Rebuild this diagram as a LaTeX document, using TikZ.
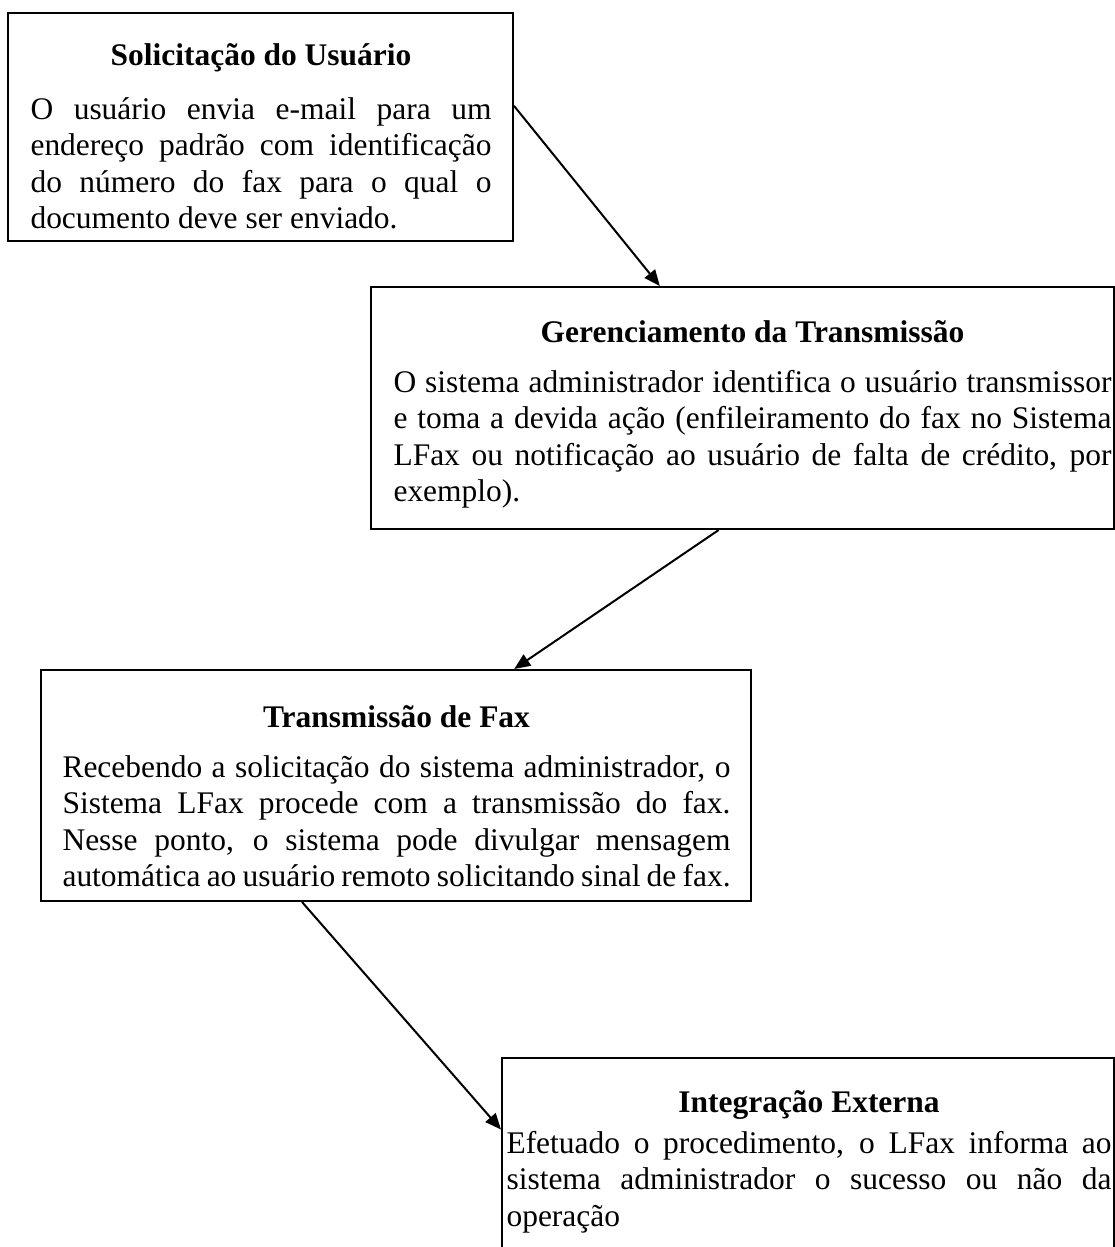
\documentclass[tikz,border=0pt]{standalone}
\usepackage{fontspec}
\setmainfont{Liberation Serif}
\usetikzlibrary{arrows.meta,calc,fit}
\setlength{\parindent}{0pt}
\newcommand{\boxtitle}[1]{\makebox[\linewidth][c]{\strut\bfseries #1}\par}
\begin{document}
\begin{tikzpicture}[x=0.375pt,y=-0.375pt,
  box/.style={draw=black, line width=0.75pt, inner sep=0pt, fill=none},
  txt/.style={inner sep=0pt, anchor=north west, align=justify,
    font=\fontsize{11.8}{13.7}\selectfont},
  arr/.style={line width=0.75pt, -{Triangle[length=6pt,width=5pt]}}]
\useasboundingbox (0,0) rectangle (1115,1247);
\clip (0,0) rectangle (1115,1247);

% boxes
\node[box, fit={(8,13) (513,241)}] (b1) {};
\node[box, fit={(371,287) (1114,529)}] (b2) {};
\node[box, fit={(41,670) (751,901)}] (b3) {};
\node[box, fit={(502,1058) (1114,1265)}] (b4) {};

% texts
\node[txt, text width=461*0.375pt] (t1) at (30,39.5) {%
\boxtitle{Solicitação do Usuário}\vspace{6.4pt}%
O usuário envia e-mail para um\linebreak
endereço padrão com identificação\linebreak
do número do fax para o qual o\linebreak
documento deve ser enviado.};

\node[txt, text width=718*0.375pt] (t2) at (393,316.5) {%
\boxtitle{Gerenciamento da Transmissão}\vspace{4.9pt}%
O sistema administrador identifica o usuário transmissor\linebreak
e toma a devida ação (enfileiramento do fax no Sistema\linebreak
LFax ou notificação ao usuário de falta de crédito, por\linebreak
exemplo).};

\node[txt, text width=668*0.375pt] (t3) at (62,701.5) {%
\boxtitle{Transmissão de Fax}\vspace{4.9pt}%
Recebendo a solicitação do sistema administrador, o\linebreak
Sistema LFax procede com a transmissão do fax.\linebreak
Nesse ponto, o sistema pode divulgar mensagem\linebreak
automática ao usuário remoto solicitando sinal de fax.};

\node[txt, text width=605*0.375pt] (t4) at (506,1086.5) {%
\boxtitle{Integração Externa}\vspace{1.5pt}%
Efetuado o procedimento, o LFax informa ao\linebreak
sistema administrador o sucesso ou não da\linebreak
operação};

% connectors
\draw[arr] ($(b1.north east)!0.408!(b1.south east)$) -- ($(b2.north west)!0.389!(b2.north east)$);
\draw[arr] ($(b2.south west)!0.468!(b2.south east)$) -- ($(b3.north west)!0.666!(b3.north east)$);
\draw[arr] ($(b3.south west)!0.368!(b3.south east)$) -- ($(b4.north west)!0.347!(b4.south west)$);
\end{tikzpicture}
\end{document}
